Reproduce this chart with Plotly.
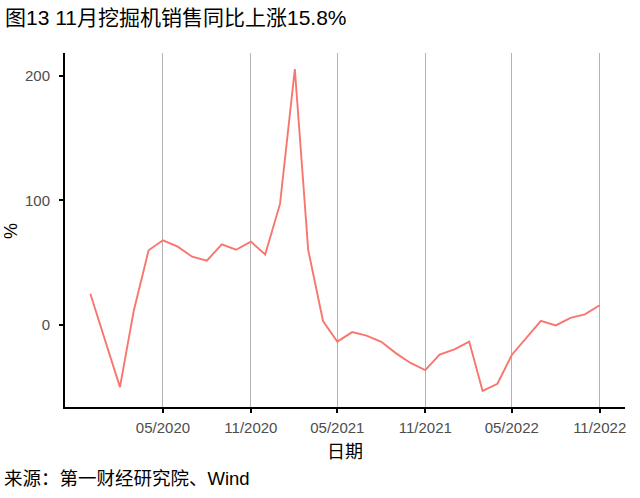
import plotly.graph_objects as go

dates = ["2019-12-01", "2020-01-01", "2020-02-01", "2020-03-01", "2020-04-01", "2020-05-01",
         "2020-06-01", "2020-07-01", "2020-08-01", "2020-09-01", "2020-10-01", "2020-11-01",
         "2020-12-01", "2021-01-01", "2021-02-01", "2021-03-01", "2021-04-01", "2021-05-01",
         "2021-06-01", "2021-07-01", "2021-08-01", "2021-09-01", "2021-10-01", "2021-11-01",
         "2021-12-01", "2022-01-01", "2022-02-01", "2022-03-01", "2022-04-01", "2022-05-01",
         "2022-06-01", "2022-07-01", "2022-08-01", "2022-09-01", "2022-10-01", "2022-11-01"]
yoy = [25.0, -12.5, -50.0, 11.6, 59.9, 68.0,
       62.9, 54.8, 51.6, 64.8, 60.4, 66.9,
       56.6, 97.2, 205.6, 60.2, 3.1, -13.5,
       -5.8, -8.7, -13.6, -22.9, -30.6, -36.4,
       -23.8, -19.7, -13.5, -53.1, -47.3, -24.2,
       -10.1, 3.3, -0.4, 5.6, 8.5, 15.8]

xtick_vals = ["2020-05-01", "2020-11-01", "2021-05-01", "2021-11-01", "2022-05-01", "2022-11-01"]
xtick_text = ["05/2020", "11/2020", "05/2021", "11/2021", "05/2022", "11/2022"]
ytick_vals = [0, 100, 200]

title_text = "图13 11月挖掘机销售同比上涨15.8%"
source_text = "来源：第一财经研究院、Wind"
x_title = "日期"
y_title = "%"

font_fam = "Liberation Sans, Arial, Noto Sans CJK SC, sans-serif"

fig = go.Figure()
fig.add_trace(go.Scatter(x=dates, y=yoy, mode="lines",
                         line=dict(color="#F8766D", width=1.9), showlegend=False))

fig.update_layout(
    width=640, height=498,
    margin=dict(l=65, r=15, t=53, b=91, autoexpand=False),
    paper_bgcolor="white", plot_bgcolor="white",
    font=dict(family=font_fam, color="black"),
    xaxis=dict(
        type="date", range=["2019-10-09", "2022-12-24"],
        tickvals=xtick_vals, ticktext=xtick_text,
        showgrid=True, gridcolor="#b3b3b3", gridwidth=1,
        showline=True, linecolor="black", linewidth=2,
        ticks="outside", ticklen=4, tickwidth=2, tickcolor="black",
        tickfont=dict(size=15, color="#4d4d4d"),
        ticklabelstandoff=2,
        zeroline=False, automargin=False,
    ),
    yaxis=dict(
        range=[-66, 218.5],
        tickvals=ytick_vals,
        showgrid=False,
        showline=True, linecolor="black", linewidth=2,
        ticks="outside", ticklen=4, tickwidth=2, tickcolor="black",
        tickfont=dict(size=15, color="#4d4d4d"),
        ticklabelstandoff=6,
        zeroline=False, automargin=False,
    ),
)

fig.add_annotation(text=title_text, xref="paper", yref="paper", x=-0.1107, y=1.099,
                   xanchor="left", yanchor="middle", showarrow=False,
                   font=dict(size=21, color="black", family=font_fam))
fig.add_annotation(text=source_text, xref="paper", yref="paper", x=-0.1125, y=-0.2006,
                   xanchor="left", yanchor="middle", showarrow=False,
                   font=dict(size=18.5, color="black", family=font_fam))
fig.add_annotation(text=x_title, xref="paper", yref="paper", x=0.5, y=-0.127,
                   xanchor="center", yanchor="middle", showarrow=False,
                   font=dict(size=18, color="black", family=font_fam))
fig.add_annotation(text=y_title, xref="paper", yref="paper", x=-0.0964, y=0.497,
                   xanchor="center", yanchor="middle", showarrow=False, textangle=-90,
                   font=dict(size=18, color="black", family=font_fam))

fig.write_html("out.html", config={"displayModeBar": False},
               post_script="document.body.style.margin='0';")
